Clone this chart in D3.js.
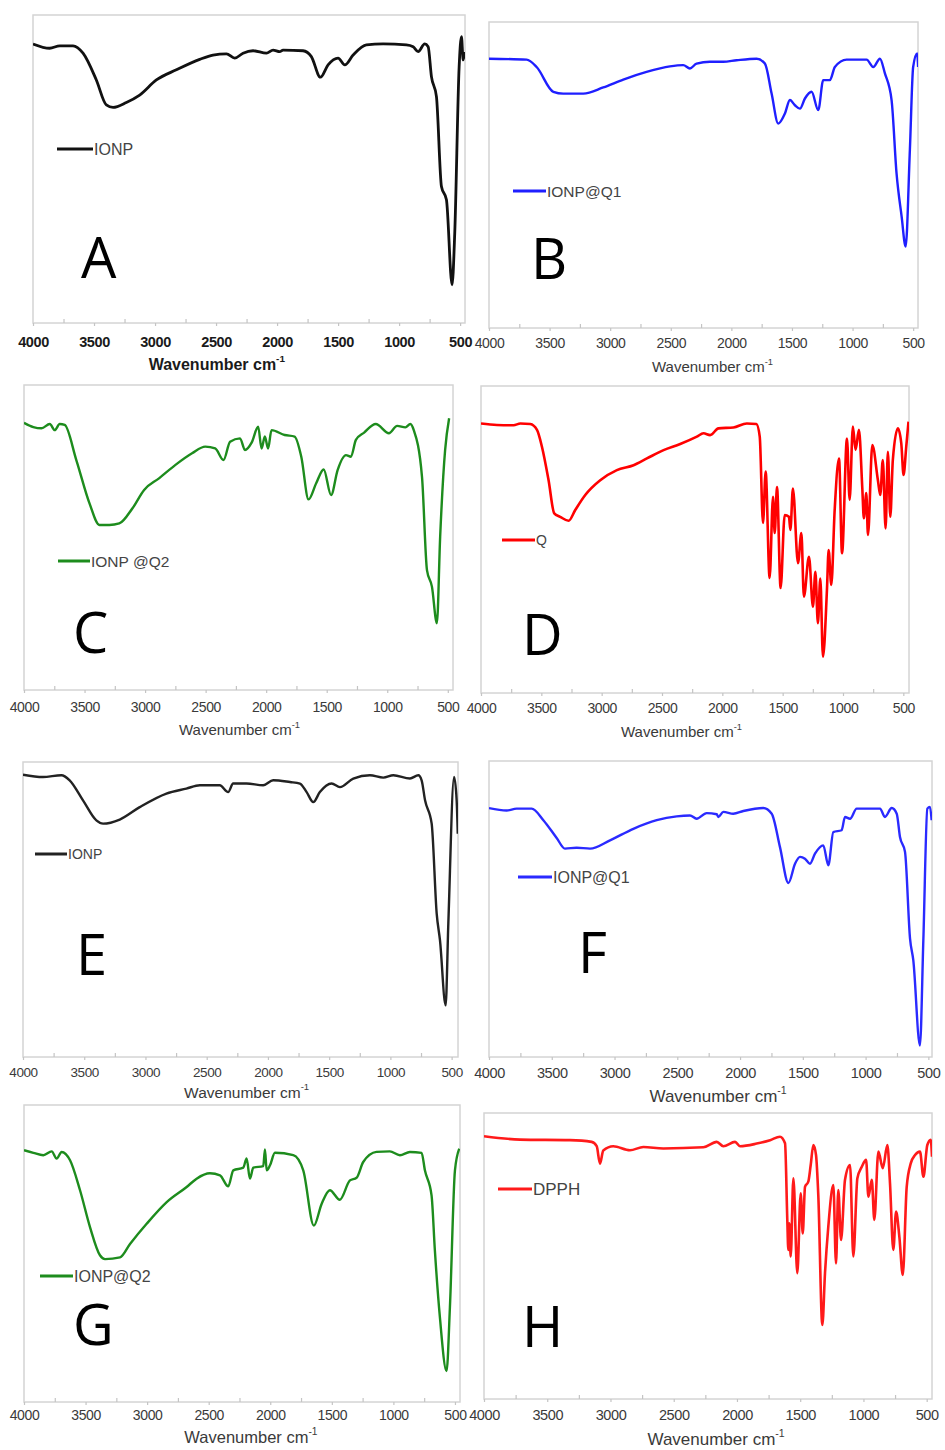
<!DOCTYPE html>
<html>
<head>
<meta charset="utf-8" />
<script src="https://cdn.jsdelivr.net/npm/d3@7/dist/d3.min.js"></script>
<style>
  body { margin: 0; background: #fff; }
  svg { display: block; }
  .frame { fill: none; stroke: #d4d4d4; stroke-width: 1.5; }
  .axis path { display: none; }
  .axis line { stroke: #c4c4c4; stroke-width: 1.2; }
  .axis text { font-family: "Liberation Sans", Arial, sans-serif; letter-spacing: -0.4px; }
  .legend text { font-family: "Liberation Sans", Arial, sans-serif; fill: #444; }
  .letter { font-family: "Open Sans", "Noto Sans", sans-serif; fill: #000; }
  .title { font-family: "Liberation Sans", Arial, sans-serif; }
</style>
</head>
<body>
<script>
// FTIR spectra (x = wavenumber, y = relative transmittance 0-100)
var majorTicks = [4000, 3500, 3000, 2500, 2000, 1500, 1000, 500];
var minorTicks = [3750, 3250, 2750, 2250, 1750, 1250, 750];
var letters = ["A", "B", "C", "D", "E", "F", "G", "H"];
var names = ["IONP", "IONP@Q1", "IONP @Q2", "Q", "IONP", "IONP@Q1", "IONP@Q2", "DPPH"];
var colors = ["#111111", "#1f1fff", "#1d8c1d", "#ff0000", "#222222", "#2a2aff", "#1d8c1d", "#ff1a1a"];

var waveA = [4000,3863,3781,3672,3590,3481,3399,3344,3235,3126,2989,2825,2634,2525,2415,2347,2279,2197,2087,2033,1978,1951,1787,1719,1645,1582,1500,1445,1377,1268,1131,940,885,844,790,762,735,694,653,612,566,544,508,489,475,462];
var transA = [90.6,89.2,90,90,87.6,78.9,70.8,70,71.6,74,78.9,82.2,85.6,87,87.4,86,87.6,88.4,87.6,88.6,88.1,88.6,88.4,86.5,79.8,83.8,86,83.8,87,90.3,90.6,90.3,89.7,88.1,90.6,89.7,80,73.5,44.3,40,12.4,29.2,83.2,93,85.4,88];

var waveB = [4000,3689,3607,3469,3387,3222,3057,2892,2700,2507,2397,2342,2287,2177,2067,1957,1792,1723,1668,1613,1558,1517,1476,1434,1393,1338,1283,1242,1187,1146,1049,884,829,774,733,678,637,595,562,527,500,467,459];
var transB = [88,87.7,85.3,77.2,76.6,76.6,78.6,81.2,83.7,85.5,85.9,84.8,86.4,87,87,87.5,88,86.4,76.6,66.8,70.1,74.5,72.8,71.7,75,77.2,71.2,81,81,85.3,87.7,87.7,85.3,88,83.2,74.5,50.5,36.4,26.6,58.2,85.3,89.7,85.3];

var waveC = [4000,3923,3855,3787,3746,3705,3664,3568,3459,3377,3295,3213,3104,3008,2885,2749,2612,2503,2421,2352,2298,2216,2175,2120,2066,2038,2011,1984,1956,1847,1765,1710,1650,1587,1525,1464,1410,1341,1300,1259,1191,1095,986,918,850,809,781,713,672,631,590,563,522,489];
var transC = [87.6,86.2,85.8,87.2,85.2,87.2,86.9,75.4,61.2,54.1,54.1,54.6,59.6,65.6,69.4,73.8,77.6,79.8,79.2,75.4,81.4,82.5,78.7,81.1,86.3,79.2,83.1,79.2,85.2,83.6,83.1,76.5,62.5,67.8,72.3,63.9,72.1,77,76.5,82,84.4,87.2,84.2,86.6,86.1,87.2,85.2,69.9,39.3,33.9,21.9,50.3,78.7,89.1];

var waveD = [4000,3868,3730,3674,3592,3536,3495,3440,3393,3344,3274,3219,3136,3012,2874,2736,2625,2487,2349,2211,2156,2101,2032,1908,1797,1718,1690,1663,1641,1608,1580,1566,1547,1517,1483,1448,1436,1415,1373,1345,1324,1282,1249,1229,1208,1188,1166,1133,1119,1097,1069,1033,1008,967,945,918,896,868,840,827,807,793,757,711,691,670,647,628,608,587,545,517,498,476,457];
var transD = [87.8,87.3,87.2,87.8,87.6,85.7,80.2,69.3,58.5,57.4,56.1,59.6,64.5,69.3,72.6,74.2,76.4,79.1,81.1,83.5,84.6,84,86.2,86.5,87.8,87.6,83.5,55.4,72.1,37.5,63.9,52.1,67.1,34.2,58,57.4,53.1,66.6,42.3,52.1,31.4,44.4,28.1,39.5,22.7,37.3,11.8,33.6,46.6,35.2,59.6,76.4,45.5,82.9,62.9,86.8,79.2,85.7,66.7,56.9,65.1,51.5,80.8,69.4,64.5,75.9,53.6,78.6,57.4,75.9,86.2,81.3,71,80.2,88.4];

var waveE = [4000,3837,3687,3619,3510,3401,3346,3210,3047,2829,2666,2556,2393,2325,2284,2175,2039,1957,1820,1739,1684,1630,1576,1480,1412,1303,1167,1058,976,840,772,745,717,663,622,595,549,527,480,459,450];
var transE = [95.7,94.9,95.5,93.8,87,80.2,79.1,80.5,84.7,89.3,91,92.1,92.1,89.8,92.7,92.7,92.1,93.8,93.2,92.7,89.8,86.4,89.8,92.7,91.5,94.4,95.5,94.7,95.5,94.4,95.5,93.8,87,79.1,48.6,39.5,17.5,45.2,94.9,87,75.7];

var waveF = [4000,3859,3780,3660,3567,3461,3395,3302,3195,3036,2850,2664,2505,2399,2346,2266,2186,2173,2133,2054,1974,1815,1748,1682,1615,1562,1522,1483,1443,1403,1337,1297,1257,1191,1164,1124,1071,885,846,792,752,726,686,646,620,567,540,508,487,474];
var transF = [84.1,83.3,83.9,83.9,80,74,70.4,70.7,70.4,73.2,77.1,80,81.3,81.6,80.5,82.4,82,81.1,82.8,82.2,83.1,84.1,82.2,70.9,58.8,65.3,67.6,67,65.3,68.7,71.5,64.8,76,76.6,81.1,80.5,83.9,83.9,81.1,84.1,82.2,74.3,69.3,40,32.7,3.9,39.4,83.9,84.5,80];

var waveG = [4000,3924,3843,3775,3735,3694,3626,3545,3464,3383,3342,3220,3139,3004,2841,2679,2598,2490,2408,2341,2300,2219,2192,2165,2138,2057,2043,2029,2002,1962,1813,1732,1646,1583,1516,1435,1353,1299,1245,1137,1029,947,866,771,744,690,663,622,568,541,500,465];
var transG = [84.8,83.9,83.1,84.4,82,84.2,81.4,71.3,58.9,49.4,48.1,48.7,53.2,60,67.3,72.4,75.2,77,76.3,72.6,78,78.9,82,75.2,78.9,79.4,85,78,79.7,83.9,83.1,78,59.4,66.7,71.3,68.1,74.6,75.5,80.8,84.2,84.4,83.1,84.2,83.9,78,69.6,51,28.4,10.4,31.8,78,85.3];

var waveH = [4000,3715,3320,3149,3109,3083,3057,2978,2846,2740,2582,2266,2160,2108,2015,1976,1844,1738,1660,1620,1602,1594,1586,1575,1554,1523,1496,1480,1462,1436,1417,1396,1375,1357,1325,1304,1278,1238,1217,1199,1177,1146,1106,1080,1048,1013,979,961,934,914,882,847,811,790,764,742,716,689,658,626,592,553,526,495,468,458];
var transH = [91.9,90.7,90.5,89.9,88.4,82.3,86.9,88.4,87,88.1,87.6,88,89.9,88.4,89.9,88.4,89.3,90.5,91.7,89.4,62.6,52.1,61.4,49.8,77.2,44,71.9,57.9,74.2,76,81.8,88.8,85.3,71.3,25.9,44,60.2,74.8,47.4,73.1,55.6,76.6,81.8,49.8,77.2,81.2,83.6,70.7,76.6,62.6,86.5,80.7,88.8,75.4,52.1,65.5,56.7,43.4,74.2,82.4,85.3,86.5,77.7,88.8,90.6,84.7];

var waves = [waveA, waveB, waveC, waveD, waveE, waveF, waveG, waveH];
var trans = [transA, transB, transC, transD, transE, transF, transG, transH];

// where each sub-figure sits on the page
var layout = [
  {l: 33,  t: 15,   r: 465, b: 323,  end: 460, gap: 19, fs: 14.5, bold: true,  tx: 212, ty: 370,  tfs: 16, lx1: 57,  lx2: 93,  ly: 149,  lfs: 16,   kx: 81,  ky: 278},
  {l: 489, t: 22,   r: 918, b: 328,  end: 460, gap: 15, fs: 14,   bold: false, tx: 708, ty: 372,  tfs: 15, lx1: 513, lx2: 546, ly: 191,  lfs: 15.5, kx: 531, ky: 279},
  {l: 24,  t: 385,  r: 453, b: 690,  end: 457, gap: 17, fs: 14,   bold: false, tx: 235, ty: 735,  tfs: 15, lx1: 58,  lx2: 90,  ly: 561,  lfs: 15.5, kx: 73,  ky: 653},
  {l: 481, t: 386,  r: 909, b: 693,  end: 453, gap: 15, fs: 14,   bold: false, tx: 677, ty: 737,  tfs: 15, lx1: 502, lx2: 535, ly: 540,  lfs: 14,   kx: 522, ky: 655},
  {l: 23,  t: 762,  r: 458, b: 1057, end: 448, gap: 15, fs: 13.5, bold: false, tx: 242, ty: 1098, tfs: 15.5, lx1: 35, lx2: 67, ly: 854,  lfs: 14,   kx: 76,  ky: 975},
  {l: 489, t: 761,  r: 932, b: 1057, end: 471, gap: 16, fs: 14.5, bold: false, tx: 713, ty: 1102, tfs: 17, lx1: 518, lx2: 552, ly: 877,  lfs: 16,   kx: 578, ky: 973},
  {l: 24,  t: 1105, r: 460, b: 1402, end: 459, gap: 13, fs: 14,   bold: false, tx: 246, ty: 1443, tfs: 16.5, lx1: 40, lx2: 73, ly: 1276, lfs: 16,   kx: 73,  ky: 1345},
  {l: 484, t: 1113, r: 932, b: 1399, end: 458, gap: 16, fs: 14.5, bold: false, tx: 711, ty: 1445, tfs: 17, lx1: 498, lx2: 532, ly: 1189, lfs: 17,   kx: 522, ky: 1347}
];

var svg = d3.select("body").append("svg")
  .attr("width", 945)
  .attr("height", 1450);

layout.forEach(function(p, i) {
  var x = d3.scaleLinear().domain([4000, p.end]).range([p.l, p.r]);
  var y = d3.scaleLinear().domain([0, 100]).range([p.b, p.t]);
  var g = svg.append("g");
  var ink = p.bold ? "#1a1a1a" : "#3a3a3a";

  g.append("clipPath").attr("id", "clip" + i)
    .append("rect")
    .attr("x", p.l).attr("y", p.t)
    .attr("width", p.r - p.l).attr("height", p.b - p.t);

  g.append("rect").attr("class", "frame")
    .attr("x", p.l).attr("y", p.t)
    .attr("width", p.r - p.l).attr("height", p.b - p.t);

  // minor ticks point inwards, majors outwards with labels
  g.append("g").attr("class", "axis")
    .attr("transform", "translate(0," + p.b + ")")
    .call(d3.axisBottom(x).tickValues(minorTicks).tickSize(-4).tickFormat(""));

  var ax = g.append("g").attr("class", "axis")
    .attr("transform", "translate(0," + p.b + ")")
    .call(d3.axisBottom(x).tickValues(majorTicks).tickSize(3).tickPadding(p.gap - 8).tickFormat(d3.format("d")));
  ax.selectAll("text")
    .style("font-size", p.fs + "px")
    .style("font-weight", p.bold ? "bold" : "normal")
    .style("fill", ink);

  // spectrum
  var pts = d3.zip(waves[i], trans[i]);
  g.append("path")
    .datum(pts)
    .attr("clip-path", "url(#clip" + i + ")")
    .attr("fill", "none")
    .attr("stroke", colors[i])
    .attr("stroke-width", i == 0 ? 2.8 : (i == 3 || i == 7 ? 2.6 : 2.4))
    .attr("stroke-linejoin", "round")
    .attr("d", d3.line()
      .curve(d3.curveMonotoneX)
      .x(function(d) { return x(d[0]); })
      .y(function(d) { return y(d[1]); }));

  // legend
  var lg = g.append("g").attr("class", "legend");
  lg.append("line")
    .attr("x1", p.lx1).attr("x2", p.lx2)
    .attr("y1", p.ly).attr("y2", p.ly)
    .attr("stroke", colors[i]).attr("stroke-width", 3);
  lg.append("text")
    .attr("x", p.lx2 + 1).attr("y", p.ly)
    .attr("dy", "0.36em")
    .style("font-size", p.lfs + "px")
    .text(names[i]);

  // panel letter
  g.append("text").attr("class", "letter")
    .attr("x", p.kx).attr("y", p.ky)
    .style("font-size", "56px")
    .text(letters[i]);

  // axis title with a small raised -1 right after the unit
  var fs = p.tfs;
  var title = g.append("text").attr("class", "title")
    .attr("x", p.tx + 0.3 * fs).attr("y", p.ty)
    .attr("text-anchor", "middle")
    .style("font-size", fs + "px")
    .style("font-weight", p.bold ? "bold" : "normal")
    .style("fill", ink);
  title.append("tspan").text("Wavenumber cm");
  title.append("tspan")
    .attr("dy", (-0.5 * fs) + "px")
    .style("font-size", (0.62 * fs) + "px")
    .text("-1");
});
</script>
</body>
</html>
